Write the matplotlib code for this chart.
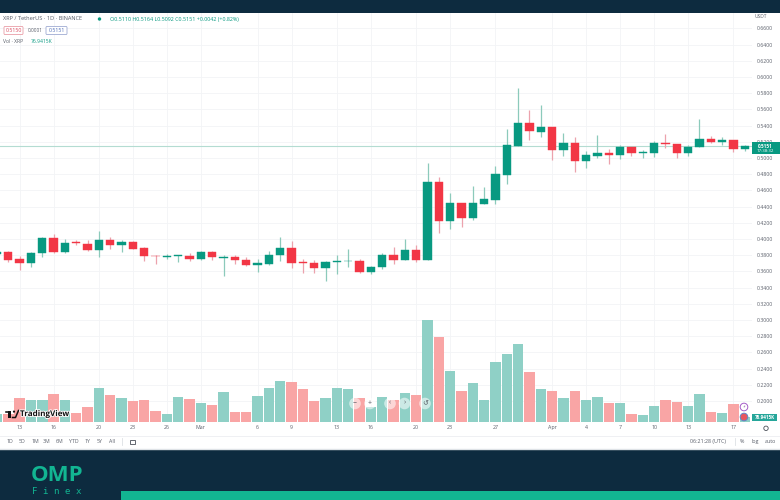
import matplotlib
matplotlib.use("Agg")
import matplotlib.pyplot as plt
import matplotlib.patheffects as pe
from matplotlib.patches import Rectangle, Circle, FancyBboxPatch

plt.rcParams['font.family'] = ['Open Sans', 'DejaVu Sans']

# ---------- data ----------
opens = [.3815,.3843,.3749,.3703,.3823,.4016,.3839,.3959,.3942,.3860,.3988,.3922,.3959,.3889,.3794,.3781,.3790,.3790,.3757,.3839,.3769,.3781,.3741,.3675,.3695,.3802,.3892,.3712,.3703,.3638,.3716,.3725,.3729,.3593,.3650,.3799,.3741,.3864,.3737,.4704,.4218,.4441,.4263,.4432,.4485,.4794,.5152,.5436,.5325,.5386,.5102,.5189,.4967,.5028,.5062,.5037,.5132,.5058,.5065,.5185,.5176,.5058,.5132,.5231,.5197,.5218,.5110]
highs = [.3850,.3855,.3790,.3843,.4028,.4058,.4003,.3988,.3988,.4095,.4028,.3988,.3979,.3905,.3802,.3815,.3806,.3827,.3848,.3848,.3806,.3802,.3774,.3749,.3848,.4028,.3979,.3757,.3744,.3725,.3806,.3876,.3757,.3671,.3827,.3905,.4003,.3922,.4943,.4762,.4564,.4448,.4658,.4638,.4901,.5354,.5860,.5593,.5651,.5386,.5305,.5263,.5090,.5284,.5107,.5157,.5132,.5099,.5210,.5293,.5176,.5164,.5478,.5272,.5263,.5218,.5164]
lows = [.3800,.3720,.3617,.3650,.3773,.3831,.3823,.3922,.3855,.3781,.3880,.3836,.3873,.3732,.3695,.3753,.3716,.3727,.3741,.3744,.3543,.3687,.3671,.3597,.3679,.3732,.3645,.3577,.3585,.3478,.3565,.3654,.3577,.3572,.3630,.3695,.3741,.3712,.3737,.4074,.4123,.4144,.4234,.4432,.4432,.4675,.5152,.5226,.5263,.4979,.5025,.4823,.4880,.5004,.4930,.4984,.5028,.4996,.5009,.5120,.4996,.5028,.5132,.5185,.5164,.5078,.5092]
closes = [.3840,.3744,.3703,.3827,.4016,.3839,.3954,.3951,.3864,.3988,.3922,.3959,.3880,.3786,.3786,.3790,.3799,.3757,.3839,.3774,.3781,.3737,.3675,.3700,.3806,.3892,.3707,.3700,.3642,.3720,.3732,.3732,.3589,.3650,.3802,.3741,.3860,.3737,.4704,.4218,.4448,.4263,.4441,.4490,.4799,.5157,.5436,.5330,.5386,.5102,.5189,.4967,.5033,.5065,.5033,.5132,.5058,.5070,.5181,.5173,.5058,.5132,.5231,.5197,.5218,.5115,.5151]
volumes = [119,119,365,339,339,427,334,143,226,519,416,365,328,334,174,119,390,350,297,266,462,154,154,400,524,636,611,504,323,365,519,513,365,226,380,339,442,416,1571,1314,781,473,596,339,929,1047,1201,765,504,477,365,482,334,385,297,297,128,108,246,334,313,251,431,149,143,277,77]
price_ticks = [.20,.22,.24,.26,.28,.30,.32,.34,.36,.38,.40,.42,.44,.46,.48,.50,.52,.54,.56,.58,.60,.62,.64,.66]
time_labels = ['13','16','20','23','26','Mar','6','9','13','16','20','23','27','Apr','4','7','10','13','17']
time_index = [1,4,8,11,14,17,22,25,29,32,36,39,43,48,51,54,57,60,64]
ranges = ['1D','5D','1M','3M','6M','YTD','1Y','5Y','All']

GREEN, RED = '#089981', '#f23645'
W_GREEN, W_RED = '#8ccabb', '#eca2ad'
V_GREEN, V_RED = '#8fd0c6', '#f9a5a5'
NAVY, TEAL, GRID = '#0d2b3f', '#12b592', '#f2f4f6'
TXT = '#5a5f6a'

fig = plt.figure(figsize=(7.8, 5), dpi=100, facecolor='white')

# page furniture, in pixel coordinates
top = fig.add_axes([0, 0, 1, 1], zorder=5)
top.set_xlim(0, 780); top.set_ylim(500, 0); top.axis('off'); top.patch.set_alpha(0)

top.add_patch(Rectangle((0, 0), 780, 13, fc=NAVY, ec='none'))
top.add_patch(Rectangle((0, 450), 780, 50, fc=NAVY, ec='none'))
top.add_patch(Rectangle((121, 491), 659, 9, fc=TEAL, ec='none'))
top.plot([0, 780], [436, 436], color='#eceef1', lw=.6)
top.plot([0, 780], [448.8, 448.8], color='#dfe3e7', lw=1)

# axes: x in candle index, y in price
rect = [0, (500 - 422) / 500, 752 / 780, 410 / 500]
vol = fig.add_axes(rect, zorder=2)
ax = fig.add_axes(rect, zorder=3)
ax.patch.set_alpha(0)
vol.set_facecolor('white')
xs = list(range(-1, len(opens) - 1))

for a in (vol, ax):
    a.set_xlim(-0.733, 65.64)
    for s in a.spines.values():
        s.set_visible(False)

# grid + right scale
ax.set_ylim(.1741, .6802)
ax.yaxis.tick_right()
ax.set_yticks(price_ticks, [f'{t:.4f}' for t in price_ticks])
ax.tick_params(axis='y', length=0, pad=3.6, labelsize=3.7, labelcolor=TXT)
ax.set_xticks(time_index, time_labels)
ax.tick_params(axis='x', length=0, pad=2.4, labelsize=3.8, labelcolor=TXT)
vol.set_xticks(time_index, labels=[])
vol.set_ylim(0, 6314)
vol.set_yticks([])
vol.tick_params(length=0)
vol.grid(axis='x', color=GRID, lw=.6)
vol.set_axisbelow(True)
ax.set_axisbelow(True)
for t in price_ticks:
    vol.axhline((t - .1741) / (.6802 - .1741) * 6314, color=GRID, lw=.6, zorder=0)

# volume
vcolors = [V_GREEN if c >= o else V_RED for o, c in zip(opens, closes)]
vol.bar(xs, volumes, width=.92, color=vcolors, linewidth=0, zorder=2)

# candles
up = [c >= o for o, c in zip(opens, closes)]
ax.vlines(xs, lows, highs, colors=[W_GREEN if u else W_RED for u in up], lw=.9, zorder=3)
ax.bar(xs, [abs(c - o) for o, c in zip(opens, closes)], bottom=[min(o, c) for o, c in zip(opens, closes)],
       width=.74, color=[GREEN if u else RED for u in up], linewidth=.3,
       edgecolor=[GREEN if u else RED for u in up], zorder=4)
ax.axhline(closes[-1], color='#b4dcd2', lw=.8, zorder=2)

# ---------- header legend ----------
top.text(3, 19, 'XRP / TetherUS · 1D · BINANCE', fontsize=4.1, color='#555b66', va='center')
top.add_patch(Circle((99.5, 19), 1.7, fc=GREEN, ec='none'))
top.text(110, 19, f'O{opens[-1]:.4f} H{highs[-1]:.4f} L{lows[-1]:.4f} C{closes[-1]:.4f} +0.0042 (+0.82%)',
         fontsize=3.85, color=GREEN, va='center')
top.add_patch(FancyBboxPatch((4, 26.5), 19, 8, boxstyle='round,pad=0,rounding_size=1', fc='white', ec='#e58a95', lw=.5))
top.text(13.5, 30.5, '0.5150', fontsize=3.8, color='#d9455a', ha='center', va='center')
top.text(35.5, 30.5, '0.0001', fontsize=3.4, color=TXT, ha='center', va='center')
top.add_patch(FancyBboxPatch((46, 26.5), 21, 8, boxstyle='round,pad=0,rounding_size=1', fc='white', ec='#8c9ac9', lw=.5))
top.text(56.5, 30.5, '0.5151', fontsize=3.8, color='#4a6ab5', ha='center', va='center')
top.text(3, 41.5, 'Vol · XRP', fontsize=3.6, color=TXT, va='center')
top.text(31, 41.5, '76.9415K', fontsize=3.6, color=GREEN, va='center')

# ---------- right scale labels ----------
top.text(754.5, 16.5, 'USDT', fontsize=3.5, color=TXT, va='center')
top.add_patch(Rectangle((752, 142.3), 28, 12, fc=GREEN, ec='none'))
top.text(765, 146.3, '0.5151', fontsize=3.4, color='white', ha='center', va='center', fontweight='bold')
top.text(765, 151.3, '17:38:32', fontsize=3.2, color='white', ha='center', va='center')
top.add_patch(Rectangle((752, 414), 25, 7, fc='#26a69a', ec='none'))
top.text(764.5, 417.5, '76.9415K', fontsize=3.3, color='white', ha='center', va='center', fontweight='bold')
top.add_patch(Circle((744, 407), 3.8, fc='white', ec='#a45cc8', lw=.7))
top.text(744, 407, '⚡', fontsize=3, color='#8a5aa8', ha='center', va='center')
top.add_patch(Circle((744, 417), 3.8, fc='#e7555f', ec='#5f86c8', lw=.7))
top.add_patch(Circle((766, 428.3), 2.2, fc='white', ec='#4a4f58', lw=.6))

# ---------- watermark + buttons ----------
halo = [pe.withStroke(linewidth=1.3, foreground='white')]
top.text(20, 413.6, 'TradingView', fontsize=5.8, fontweight='bold', color='#111111', va='center', path_effects=halo)
top.add_patch(Rectangle((5, 410.5), 6, 2.2, fc='#111111', ec='white', lw=.3))
top.add_patch(Rectangle((7.5, 410.5), 3, 7.2, fc='#111111', ec='none'))
top.add_patch(Circle((14, 411.6), 1.1, fc='#111111', ec='none'))
top.plot([12.5, 15.5, 18.5], [417.5, 417.5, 410.5], color='#111111', lw=1.1)
for x, s in zip([355, 370, 390, 404.5, 425], ['−', '+', '‹', '›', '↺']):
    top.add_patch(Circle((x, 403.5), 5.8, fc='white', alpha=.55, ec='none'))
    top.text(x, 403.3, s, fontsize=5, color='#5b5f68', ha='center', va='center')

# ---------- toolbar ----------
for x, s in zip([10, 22, 35, 47, 60, 74, 88, 100, 112], ranges):
    top.text(x, 441.7, s, fontsize=3.8, color=TXT, ha='center', va='center')
top.plot([122, 122], [438, 445], color='#dde0e4', lw=.6)
top.add_patch(Rectangle((129.5, 439.5), 5.5, 4.5, fc='none', ec='#4a4f58', lw=.6))
top.text(708, 441.7, '06:21:28 (UTC)', fontsize=3.9, color=TXT, ha='center', va='center')
top.plot([735, 735], [438, 445], color='#dde0e4', lw=.6)
for x, s in zip([742, 755, 770], ['%', 'log', 'auto']):
    top.text(x, 441.7, s, fontsize=3.9, color=TXT, ha='center', va='center')

# ---------- footer logo ----------
top.text(57, 475.5, 'OMP', fontsize=16, fontweight='bold', color=TEAL, ha='center', va='center')
top.text(57, 491, 'F i n e x', fontsize=6.6, family='DejaVu Sans Mono', color=TEAL, ha='center', va='center')

fig.savefig('out.png', dpi=100)
